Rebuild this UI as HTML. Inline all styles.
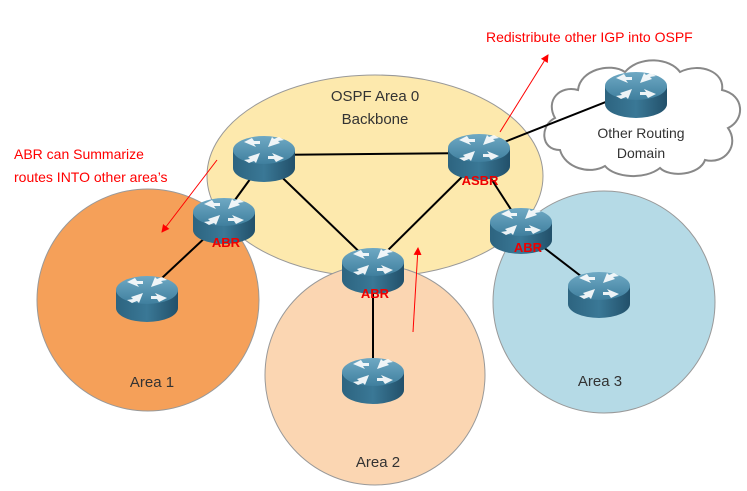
<!DOCTYPE html>
<html><head><style>body{margin:0;background:#fff}svg{display:block;font-family:"Liberation Sans",sans-serif}</style></head><body>
<svg width="747" height="491" viewBox="0 0 747 491">
<defs>
<linearGradient id="tg" x1="0" y1="0" x2="0" y2="1"><stop offset="0" stop-color="#6fa9c4"/><stop offset="1" stop-color="#3f7f9e"/></linearGradient>
<linearGradient id="bg" x1="0" y1="0" x2="1" y2="0"><stop offset="0" stop-color="#2d6480"/><stop offset="0.5" stop-color="#3a7896"/><stop offset="1" stop-color="#22506a"/></linearGradient>
<g id="r">
<path d="M-31 0 V18 A31 14 0 0 0 31 18 V0 Z" fill="url(#bg)"/>
<ellipse cx="0" cy="0" rx="31" ry="14" fill="url(#tg)"/>
<g fill="#fff" opacity="0.9">
<path d="M-20 -8 L-8 -3 L-10 -6 L-4 -6 L-4 -9 L-10 -9 L-12 -12 Z"/>
<path d="M20 8 L8 3 L10 6 L4 6 L4 9 L10 9 L12 12 Z"/>
<path d="M4 -3 L16 -7 L14 -9 L20 -10 L15 -13 L10 -11 L8 -13 Z"/>
<path d="M-4 3 L-16 7 L-14 9 L-20 10 L-15 13 L-10 11 L-8 13 Z"/>
</g>
</g>
<marker id="ah" markerWidth="8" markerHeight="8" refX="7" refY="4" orient="auto" markerUnits="userSpaceOnUse"><path d="M0 0 L8 4 L0 8 Z" fill="#f00"/></marker>
</defs>
<path d="M560 150 C540 150 540 125 555 118 C545 100 560 85 578 90 C580 70 610 62 625 72 C640 55 670 58 680 72 C700 62 725 72 722 90 C745 95 745 120 728 128 C740 145 725 165 705 160 C700 175 670 178 660 168 C645 180 615 178 605 166 C590 175 565 168 560 150 Z" fill="#fff" stroke="#888" stroke-width="2"/>
<ellipse cx="375" cy="176" rx="168" ry="101" fill="#fde9ad" stroke="#999"/>
<circle cx="148" cy="300" r="111" fill="#f5a059" stroke="#999"/>
<circle cx="375" cy="375" r="110" fill="#fbd6b2" stroke="#999"/>
<circle cx="604" cy="302" r="111" fill="#b5dae6" stroke="#999"/>
<g stroke="#000" stroke-width="2">
<line x1="264" y1="155" x2="479" y2="153"/><line x1="264" y1="160" x2="224" y2="215"/>
<line x1="264" y1="160" x2="373" y2="265"/><line x1="479" y1="160" x2="373" y2="265"/>
<line x1="479" y1="160" x2="521" y2="225"/><line x1="479" y1="152" x2="636" y2="90"/>
<line x1="224" y1="220" x2="147" y2="292"/><line x1="373" y1="270" x2="373" y2="375"/>
<line x1="521" y1="230" x2="599" y2="290"/>
</g>
<use href="#r" x="264" y="150"/><use href="#r" x="479" y="148"/><use href="#r" x="224" y="212"/>
<use href="#r" x="373" y="262"/><use href="#r" x="521" y="222"/><use href="#r" x="147" y="290"/>
<use href="#r" x="373" y="372"/><use href="#r" x="599" y="286"/><use href="#r" x="636" y="86"/>
<g fill="#e00" font-weight="bold" font-size="13" text-anchor="middle">
<text x="480" y="185">ASBR</text><text x="226" y="247">ABR</text><text x="375" y="298">ABR</text><text x="528" y="252">ABR</text>
</g>
<g stroke="#f00" stroke-width="1" marker-end="url(#ah)">
<line x1="217" y1="160" x2="162" y2="232"/><line x1="500" y1="132" x2="548" y2="55"/><line x1="413" y1="332" x2="418" y2="248"/>
</g>
<g fill="#f00" font-size="14">
<text x="486" y="42">Redistribute other  IGP into OSPF</text>
<text x="14" y="159">ABR can Summarize</text><text x="14" y="182">routes INTO other area’s</text>
</g>
<g fill="#333" font-size="15" text-anchor="middle">
<text x="375" y="101">OSPF Area 0</text><text x="375" y="124">Backbone</text>
<text x="152" y="387">Area 1</text><text x="378" y="467">Area 2</text><text x="600" y="386">Area 3</text>
</g>
<g fill="#333" font-size="14" text-anchor="middle"><text x="641" y="138">Other Routing</text><text x="641" y="158">Domain</text></g>
</svg>
</body></html>
